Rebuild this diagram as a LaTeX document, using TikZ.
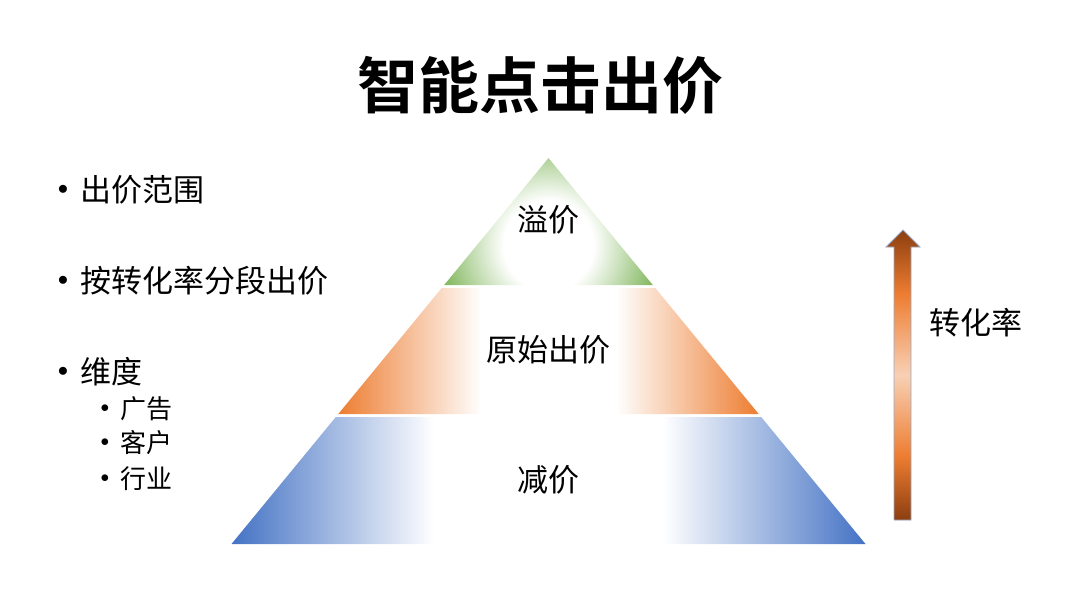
\documentclass[tikz,border=0pt]{standalone}
\usepackage{fontspec}
\newfontfamily\cjk{Noto Sans CJK SC}
\newfontfamily\cjkbold{Noto Sans CJK SC Bold}
\definecolor{pgreen}{RGB}{112,173,71}
\definecolor{porange}{RGB}{237,125,49}
\definecolor{pblue}{RGB}{68,114,196}
\definecolor{adark}{RGB}{140,62,16}
\definecolor{alight}{RGB}{248,208,180}
\definecolor{aline}{RGB}{150,170,200}
\pgfdeclarehorizontalshading{orangeband}{100bp}{color(0bp)=(porange); color(25bp)=(porange); color(42bp)=(white); color(58bp)=(white); color(75bp)=(porange); color(100bp)=(porange)}
\pgfdeclarehorizontalshading{blueband}{100bp}{color(0bp)=(pblue); color(25bp)=(pblue); color(41bp)=(white); color(59bp)=(white); color(75bp)=(pblue); color(100bp)=(pblue)}
\pgfdeclareradialshading{greenball}{\pgfpoint{0bp}{0bp}}{color(0bp)=(white); color(9bp)=(white); color(24bp)=(pgreen); color(50bp)=(pgreen)}
\pgfdeclareverticalshading{arrowshade}{100bp}{color(0bp)=(adark); color(25bp)=(adark); color(36bp)=(porange); color(50bp)=(alight); color(64bp)=(porange); color(75bp)=(adark); color(100bp)=(adark)}
\tikzset{
  titletext/.style={font=\cjkbold\fontsize{61}{66}\selectfont, inner sep=0pt},
  itemtext/.style={font=\cjk\fontsize{31}{34}\selectfont, inner sep=0pt, anchor=west},
  subtext/.style={font=\cjk\fontsize{26}{30}\selectfont, inner sep=0pt, anchor=west},
  bul/.style={font=\fontsize{22}{24}\selectfont, inner sep=0pt},
  subbul/.style={font=\fontsize{18}{20}\selectfont, inner sep=0pt},
  layertext/.style={font=\cjk\fontsize{31}{34}\selectfont, inner sep=0pt},
}
\begin{document}
\begin{tikzpicture}[x=1pt,y=-1pt]
\useasboundingbox (0,0) rectangle (1080,598);
% title
\node[titletext] (title) at (540,85) {智能点击出价};
% bullets
\node[bul] (b1) at (63,190) {$\bullet$};
\node[itemtext] (t1) at (80,190) {出价范围};
\node[bul] (b2) at (63,281) {$\bullet$};
\node[itemtext] (t2) at (80,281) {按转化率分段出价};
\node[bul] (b3) at (63,372) {$\bullet$};
\node[itemtext] (t3) at (80,372) {维度};
\node[subbul] (s1b) at (105,409) {$\bullet$};
\node[subtext] (s1) at (120,409) {广告};
\node[subbul] (s2b) at (105,443) {$\bullet$};
\node[subtext] (s2) at (120,443) {客户};
\node[subbul] (s3b) at (105,479) {$\bullet$};
\node[subtext] (s3) at (120,479) {行业};
% pyramid top
\begin{scope}
\clip (548.5,158) -- (652.8,285) -- (444.2,285) -- cycle;
\shade[shading=greenball] (548.5,245) circle (125);
\end{scope}
% middle layer
\shade[shading=orangeband] (441.7,288) -- (655.3,288) -- (758.7,414) -- (338.3,414) -- cycle;
% bottom layer
\shade[shading=blueband] (335.8,417) -- (761.2,417) -- (865.5,544) -- (231.5,544) -- cycle;
\node[layertext] (l1) at (548,220) {溢价};
\node[layertext] (l2) at (548,350) {原始出价};
\node[layertext] (l3) at (548,480) {减价};
% arrow
\shadedraw[shading=arrowshade, draw=aline, line width=0.8pt]
  (894,520) -- (894,247) -- (886,247) -- (903,230) -- (920,247) -- (911,247) -- (911,520) -- cycle;
\node[layertext] (conv) at (976,323) {转化率};
\end{tikzpicture}
\end{document}
